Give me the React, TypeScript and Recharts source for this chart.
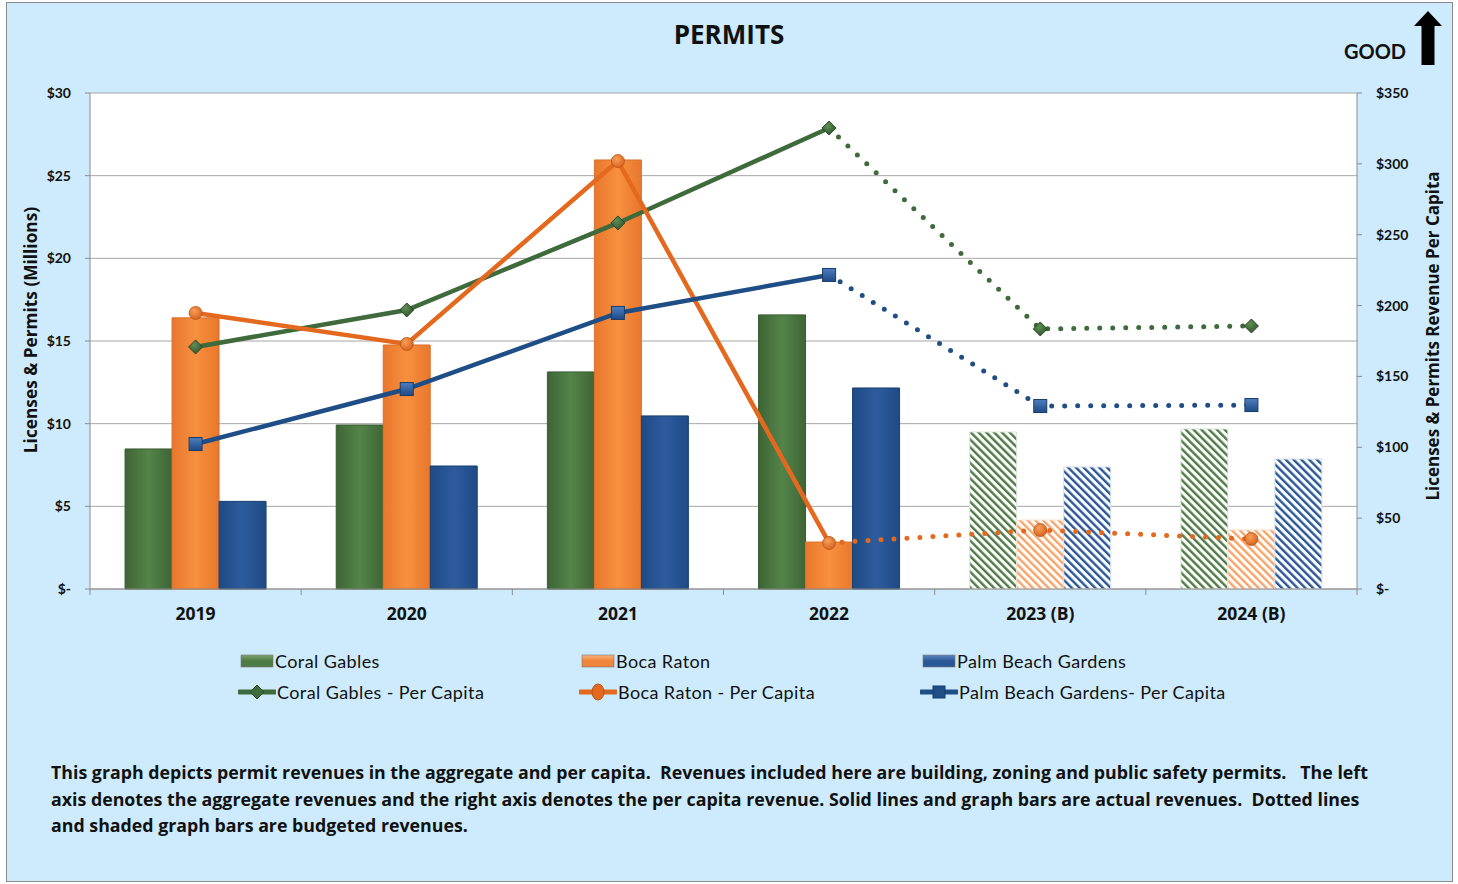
import React from "react";
import { Bar, CartesianGrid, Cell, ComposedChart, Line, XAxis, YAxis } from "recharts";

const years = ["2019", "2020", "2021", "2022", "2023 (B)", "2024 (B)"];
// aggregate revenues, millions (left axis)
const coralGables = [8.47, 9.92, 13.13, 16.58, 9.5, 9.68];
const bocaRaton = [16.4, 14.76, 25.95, 2.84, 4.17, 3.57];
const palmBeachGardens = [5.3, 7.44, 10.47, 12.16, 7.38, 7.86];
// per capita, dollars (right axis)
const coralPerCapita = [170.8, 196.9, 258.3, 325.3, 183.5, 185.6];
const bocaPerCapita = [194.8, 172.9, 302, 32.5, 41.6, 35.3];
const palmPerCapita = [102.3, 141.1, 194.8, 221.6, 129.1, 129.8];
const lastActual = 3; // 2022 is the last actual year, dotted lines start there
const leftTicks = [0, 5, 10, 15, 20, 25, 30];
const rightTicks = [0, 50, 100, 150, 200, 250, 300, 350];

const data = years.map((year, i) => ({
  year,
  cg: coralGables[i],
  br: bocaRaton[i],
  pbg: palmBeachGardens[i],
  cgA: i <= lastActual ? coralPerCapita[i] : null,
  cgB: i >= lastActual ? coralPerCapita[i] : null,
  brA: i <= lastActual ? bocaPerCapita[i] : null,
  brB: i >= lastActual ? bocaPerCapita[i] : null,
  pbgA: i <= lastActual ? palmPerCapita[i] : null,
  pbgB: i >= lastActual ? palmPerCapita[i] : null,
}));

const FONT = "Lato, 'Open Sans', sans-serif";
const WIDE = "'Open Sans', Lato, sans-serif";
const BG = "#cdebfc";
const GREEN = "#3f6a3b";
const ORANGE = "#e4691f";
const BLUE = "#1f4e87";

const CHART_W = 1458;
const MARGIN = { top: 93, left: 30, right: 41, bottom: 21 };
const AXIS_W = 60;
const PLOT_W = CHART_W - MARGIN.left - MARGIN.right - AXIS_W * 2;
const BAND = PLOT_W / years.length;

function XTick(props: any) {
  const { x, y, payload, index } = props;
  const left = x - BAND / 2;
  return (
    <g>
      <line x1={left} x2={left} y1={y} y2={y + 6} stroke="#8c8c8c" />
      {index === years.length - 1 && (
        <line x1={x + BAND / 2} x2={x + BAND / 2} y1={y} y2={y + 6} stroke="#8c8c8c" />
      )}
      <text x={x} y={y + 31} textAnchor="middle" fontSize={17.5} fontWeight="bold" fill="#111" fontFamily={WIDE}>
        {payload.value}
      </text>
    </g>
  );
}

const Diamond = ({ cx, cy }: any) => (
  <path d={`M${cx},${cy - 7} L${cx + 7},${cy} L${cx},${cy + 7} L${cx - 7},${cy} Z`} fill="url(#gDot)" stroke="#2d4a2a" strokeWidth={1} />
);
const Ball = ({ cx, cy }: any) => <circle cx={cx} cy={cy} r={6.5} fill="url(#oDot)" stroke="#b9541a" strokeWidth={0.8} />;
const Square = ({ cx, cy }: any) => (
  <rect x={cx - 6.5} y={cy - 6.5} width={13} height={13} fill="url(#bDot)" stroke="#173c6a" strokeWidth={1} />
);

function makeDot(Marker: any, skip: number | null) {
  return (p: any) => {
    if (p.value == null || p.index === skip) return <g key={`d${p.index}`} />;
    return <Marker key={`d${p.index}`} cx={p.cx} cy={p.cy} />;
  };
}

const fmt = (v: number) => (v === 0 ? "$-" : `$${v}`);

function LegendBar({ color, light }: { color: string; light: string }) {
  return (
    <svg width={34} height={14} style={{ display: "block" }}>
      <defs>
        <linearGradient id={`lg${color}`} x1="0" y1="0" x2="0" y2="1">
          <stop offset="0" stopColor={light} />
          <stop offset="0.5" stopColor={color} />
          <stop offset="1" stopColor={color} />
        </linearGradient>
      </defs>
      <rect x={1} y={1} width={32} height={12} fill={`url(#lg${color})`} stroke="#777" strokeWidth={0.6} />
    </svg>
  );
}

function LegendLine({ color, kind }: { color: string; kind: string }) {
  return (
    <svg width={38} height={18} style={{ display: "block" }}>
      <line x1={1} x2={37} y1={9} y2={9} stroke={color} strokeWidth={5} strokeLinecap="round" />
      {kind === "d" && <path d="M19,2 L26,9 L19,16 L12,9 Z" fill={color} stroke="#2d4a2a" />}
      {kind === "c" && <ellipse cx={19} cy={9} rx={6} ry={8} fill={color} stroke="#b9541a" />}
      {kind === "s" && <rect x={13} y={3} width={12} height={12} fill={color} stroke="#173c6a" />}
    </svg>
  );
}

const legendItems = [
  { label: "Coral Gables", icon: <LegendBar color="#4c7b43" light="#7aa46c" />, x: 240, y: 661 },
  { label: "Boca Raton", icon: <LegendBar color="#f0843a" light="#f8b27a" />, x: 581, y: 661 },
  { label: "Palm Beach Gardens", icon: <LegendBar color="#2a5796" light="#5f86c2" />, x: 922, y: 661 },
  { label: "Coral Gables - Per Capita", icon: <LegendLine color={GREEN} kind="d" />, x: 238, y: 692 },
  { label: "Boca Raton - Per Capita", icon: <LegendLine color={ORANGE} kind="c" />, x: 579, y: 692 },
  { label: "Palm Beach Gardens- Per Capita", icon: <LegendLine color={BLUE} kind="s" />, x: 920, y: 692 },
];

const footer = [
  "This graph depicts permit revenues in the aggregate and per capita.  Revenues included here are building, zoning and public safety permits.   The left",
  "axis denotes the aggregate revenues and the right axis denotes the per capita revenue. Solid lines and graph bars are actual revenues.  Dotted lines",
  "and shaded graph bars are budgeted revenues.",
];

export default function App() {
  const budget = (i: number) => i > lastActual;
  return (
    <div style={{ position: "absolute", left: 0, top: 0, width: 1458, height: 884, background: "#fff", fontFamily: FONT }}>
      <div
        style={{
          position: "absolute",
          left: 6,
          top: 2,
          width: 1445,
          height: 878,
          background: BG,
          border: "1px solid #8c8c8c",
        }}
      />
      <div style={{ position: "absolute", left: 0, top: 0 }}>
        <ComposedChart
          width={CHART_W}
          height={640}
          data={data}
          margin={MARGIN}
          barGap={0}
          barCategoryGap="16.6%"
          style={{ fontFamily: FONT }}
        >
          <defs>
            <linearGradient id="gBar" x1="0" y1="0" x2="1" y2="0">
              <stop offset="0" stopColor="#3e6535" />
              <stop offset="0.5" stopColor="#54844a" />
              <stop offset="1" stopColor="#3e6535" />
            </linearGradient>
            <linearGradient id="oBar" x1="0" y1="0" x2="1" y2="0">
              <stop offset="0" stopColor="#e8772c" />
              <stop offset="0.5" stopColor="#f8903f" />
              <stop offset="1" stopColor="#e8772c" />
            </linearGradient>
            <linearGradient id="bBar" x1="0" y1="0" x2="1" y2="0">
              <stop offset="0" stopColor="#1f4a85" />
              <stop offset="0.5" stopColor="#2d5c9e" />
              <stop offset="1" stopColor="#1f4a85" />
            </linearGradient>
            <pattern id="gHatch" width="5.5" height="5.5" patternUnits="userSpaceOnUse" patternTransform="rotate(-45)">
              <rect width="5.5" height="5.5" fill="#fff" />
              <rect width="2.4" height="5.5" fill="#4f7a45" />
            </pattern>
            <pattern id="oHatch" width="5.5" height="5.5" patternUnits="userSpaceOnUse" patternTransform="rotate(-45)">
              <rect width="5.5" height="5.5" fill="#fff" />
              <rect width="2.4" height="5.5" fill="#f7a468" />
            </pattern>
            <pattern id="bHatch" width="5.5" height="5.5" patternUnits="userSpaceOnUse" patternTransform="rotate(-45)">
              <rect width="5.5" height="5.5" fill="#fff" />
              <rect width="2.4" height="5.5" fill="#2a5796" />
            </pattern>
            <radialGradient id="gDot" cx="0.4" cy="0.35" r="0.7">
              <stop offset="0" stopColor="#5f8f55" />
              <stop offset="1" stopColor="#2f522c" />
            </radialGradient>
            <radialGradient id="oDot" cx="0.4" cy="0.35" r="0.7">
              <stop offset="0" stopColor="#f7a05a" />
              <stop offset="1" stopColor="#d5601a" />
            </radialGradient>
            <linearGradient id="bDot" x1="0" y1="0" x2="0" y2="1">
              <stop offset="0" stopColor="#4f7fc0" />
              <stop offset="1" stopColor="#1e4a84" />
            </linearGradient>
          </defs>
          <CartesianGrid vertical={false} stroke="#a6a6a6" fill="#fff" yAxisId="left" />
          <XAxis
            dataKey="year"
            axisLine={{ stroke: "#8c8c8c" }}
            tickLine={false}
            tickSize={0}
            tickMargin={0}
            height={30}
            interval={0}
            tick={<XTick />}
          />
          <YAxis
            yAxisId="left"
            orientation="left"
            width={AXIS_W}
            domain={[0, 30]}
            ticks={leftTicks}
            tickFormatter={fmt}
            axisLine={{ stroke: "#8c8c8c" }}
            tickLine={{ stroke: "#8c8c8c" }}
            tickSize={5}
            tickMargin={14}
            tick={{ fontSize: 14, fontWeight: "bold", fill: "#111", fontFamily: FONT }}
          />
          <YAxis
            yAxisId="right"
            orientation="right"
            width={AXIS_W}
            domain={[0, 350]}
            ticks={rightTicks}
            tickFormatter={fmt}
            axisLine={{ stroke: "#8c8c8c" }}
            tickLine={{ stroke: "#8c8c8c" }}
            tickSize={5}
            tickMargin={14}
            tick={{ fontSize: 14, fontWeight: "bold", fill: "#111", fontFamily: FONT, textAnchor: "start" }}
          />
          <Bar yAxisId="left" dataKey="cg" isAnimationActive={false}>
            {data.map((_, i) => (
              <Cell key={i} fill={budget(i) ? "url(#gHatch)" : "url(#gBar)"} stroke={budget(i) ? "#e0e8dc" : "#375c31"} strokeWidth={1} />
            ))}
          </Bar>
          <Bar yAxisId="left" dataKey="br" isAnimationActive={false}>
            {data.map((_, i) => (
              <Cell key={i} fill={budget(i) ? "url(#oHatch)" : "url(#oBar)"} stroke={budget(i) ? "#f6e0d0" : "#d9722e"} strokeWidth={1} />
            ))}
          </Bar>
          <Bar yAxisId="left" dataKey="pbg" isAnimationActive={false}>
            {data.map((_, i) => (
              <Cell key={i} fill={budget(i) ? "url(#bHatch)" : "url(#bBar)"} stroke={budget(i) ? "#d6e0ee" : "#1b406f"} strokeWidth={1} />
            ))}
          </Bar>

          <Line yAxisId="right" dataKey="cgB" stroke={GREEN} strokeWidth={5} strokeDasharray="0 13" strokeLinecap="round" dot={makeDot(Diamond, lastActual)} activeDot={false} isAnimationActive={false} />
          <Line yAxisId="right" dataKey="brB" stroke={ORANGE} strokeWidth={5} strokeDasharray="0 13" strokeLinecap="round" dot={makeDot(Ball, lastActual)} activeDot={false} isAnimationActive={false} />
          <Line yAxisId="right" dataKey="pbgB" stroke={BLUE} strokeWidth={5} strokeDasharray="0 13" strokeLinecap="round" dot={makeDot(Square, lastActual)} activeDot={false} isAnimationActive={false} />
          <Line yAxisId="right" dataKey="cgA" stroke={GREEN} strokeWidth={4.5} dot={makeDot(Diamond, null)} activeDot={false} isAnimationActive={false} />
          <Line yAxisId="right" dataKey="brA" stroke={ORANGE} strokeWidth={4.5} dot={makeDot(Ball, null)} activeDot={false} isAnimationActive={false} />
          <Line yAxisId="right" dataKey="pbgA" stroke={BLUE} strokeWidth={4.5} dot={makeDot(Square, null)} activeDot={false} isAnimationActive={false} />
        </ComposedChart>
      </div>

      <div style={{ position: "absolute", left: 0, width: 1458, top: 16, textAlign: "center", fontSize: 26, fontWeight: "bold", color: "#111", fontFamily: WIDE }}>
        PERMITS
      </div>
      <div style={{ position: "absolute", left: 1344, top: 39, fontSize: 20, fontWeight: "bold", color: "#111" }}>GOOD</div>
      <svg style={{ position: "absolute", left: 1410, top: 8 }} width={36} height={60}>
        <polygon points="18,3 32,18 24.5,18 24.5,57 11.5,57 11.5,18 4,18" fill="#000" />
      </svg>

      <div
        style={{
          position: "absolute",
          left: 30,
          top: 330,
          transform: "translate(-50%, -50%) rotate(-90deg)",
          whiteSpace: "nowrap",
          fontSize: 17.3,
          fontWeight: "bold",
          color: "#111",
          fontFamily: WIDE,
        }}
      >
        Licenses &amp; Permits (Millions)
      </div>
      <div
        style={{
          position: "absolute",
          left: 1432,
          top: 336,
          transform: "translate(-50%, -50%) rotate(-90deg)",
          whiteSpace: "nowrap",
          fontSize: 17,
          fontWeight: "bold",
          color: "#111",
          fontFamily: WIDE,
        }}
      >
        Licenses &amp; Permits Revenue Per Capita
      </div>

      {legendItems.map((it) => (
        <div
          key={it.label}
          style={{ position: "absolute", left: it.x, top: it.y - 11, height: 22, display: "flex", alignItems: "center", fontSize: 18, letterSpacing: 0.4, color: "#111" }}
        >
          {it.icon}
          <span style={{ marginLeft: 1 }}>{it.label}</span>
        </div>
      ))}

      <div style={{ position: "absolute", left: 51, top: 759, fontSize: 17.8, fontWeight: "bold", color: "#111", lineHeight: "26.5px", whiteSpace: "pre", fontFamily: WIDE }}>
        {footer.map((l) => (
          <div key={l}>{l}</div>
        ))}
      </div>
    </div>
  );
}
